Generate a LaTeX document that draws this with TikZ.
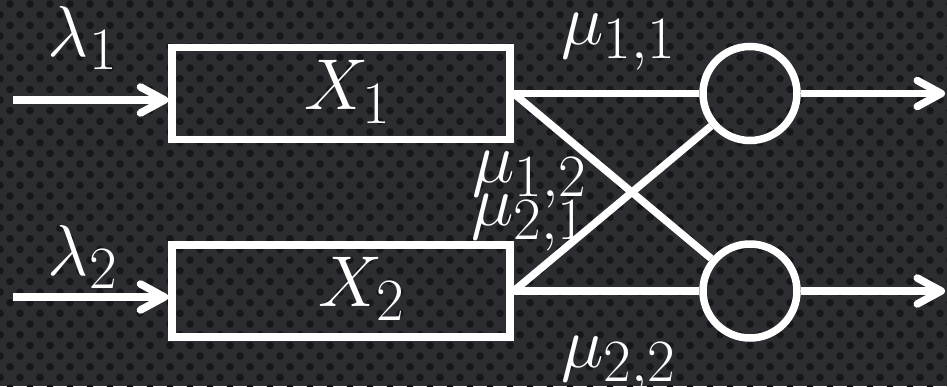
\documentclass[tikz,border=0pt]{standalone}
\usetikzlibrary{arrows.meta}
\definecolor{bgc}{HTML}{2C2D31}
\definecolor{dotc}{HTML}{16171B}
\begin{document}
\begin{tikzpicture}[x=1pt,y=-1pt,
  lab/.style={font=\Huge, text=white, inner sep=0pt, scale=2.894, transform shape},
  wire/.style={draw=white, line width=7.5pt},
  arr/.style={wire, -{Straight Barb[length=24pt,width=26pt,round]}},
  boxnode/.style={draw=white, line width=7.5pt, minimum width=338pt, minimum height=92pt, inner sep=0pt},
  sink/.style={draw=white, line width=7.5pt, circle, minimum size=94pt, inner sep=0pt}]
\useasboundingbox (0,0) rectangle (947,386);
\fill[bgc] (0,0) rectangle (947,386);
\foreach \j in {0,...,36}{
  \pgfmathsetmacro\off{10*mod(\j,2)}
  \foreach \i in {-1,...,47}{
    \fill[dotc] ({10+20*\i+\off},{4+10.67*\j}) circle (3.8pt);
  }
}
% boxes and sinks
\node[boxnode] (X1) at (341,93.5) {};
\node[boxnode] (X2) at (341,291) {};
\node[sink] (C1) at (750,93.5) {};
\node[sink] (C2) at (750,291) {};
% texts
\node[lab] (tX1) at (348,92) {$X_1$};
\node[lab] (tX2) at (362,289) {$X_2$};
\node[lab] (l1) at (83,38) {$\lambda_1$};
\node[lab] (l2) at (83,257) {$\lambda_2$};
\node[lab] (m11) at (619,41.5) {$\mu_{1,1}$};
\node[lab] (m12) at (530,180) {$\mu_{1,2}$};
\node[lab] (m21) at (529,223) {$\mu_{2,1}$};
\node[lab] (m22) at (619,365) {$\mu_{2,2}$};
% free ends
\coordinate (in1) at (13,100);
\coordinate (in2) at (13,297);
\coordinate (out1) at (945,93.5);
\coordinate (out2) at (945,291);
% connectors
\draw[arr] (in1) -- (in1 -| X1.west);
\draw[arr] (in2) -- (in2 -| X2.west);
\draw[wire] (X1.east) -- (C1);
\draw[wire] (X1.east) -- (C2);
\draw[wire] (X2.east) -- (C1);
\draw[wire] (X2.east) -- (C2);
\draw[arr] (C1) -- (out1);
\draw[arr] (C2) -- (out2);
\end{tikzpicture}
\end{document}
